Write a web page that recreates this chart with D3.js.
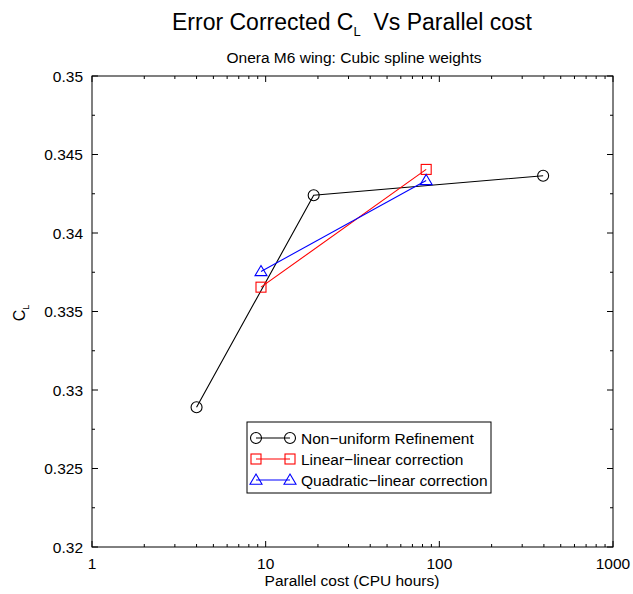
<!DOCTYPE html>
<html>
<head>
<meta charset="utf-8">
<script src="https://cdn.jsdelivr.net/npm/d3@7"></script>
<style>
  html, body { margin: 0; padding: 0; background: #fff; }
  svg { display: block; font-family: "Liberation Sans", Arial, sans-serif; }
</style>
</head>
<body>
<svg id="chart" width="633" height="594"></svg>
<script>
// Parallel cost (CPU hours) and corrected lift coefficient per method
const nonUniformCost = [4, 18.9, 396];
const nonUniformCL = [0.3289, 0.3424, 0.34365];
const linearCost = [9.4, 84];
const linearCL = [0.33655, 0.34405];
const quadraticCost = [9.4, 84];
const quadraticCL = [0.33755, 0.34335];

const xTickValues = [1, 10, 100, 1000];
const yTickValues = [0.32, 0.325, 0.33, 0.335, 0.34, 0.345, 0.35];
const yTickLabels = ["0.32", "0.325", "0.33", "0.335", "0.34", "0.345", "0.35"];

const seriesNames = ["Non\u2212uniform Refinement", "Linear\u2212linear correction", "Quadratic\u2212linear correction"];
const seriesColors = ["#000000", "#ff0000", "#0000ff"];
const seriesShapes = ["circle", "square", "triangle"];

const series = [
  { cost: nonUniformCost, cl: nonUniformCL },
  { cost: linearCost, cl: linearCL },
  { cost: quadraticCost, cl: quadraticCL }
].map((s, i) => ({
  name: seriesNames[i], color: seriesColors[i], shape: seriesShapes[i],
  points: s.cost.map((c, j) => ({ x: c, y: s.cl[j] }))
}));

const svg = d3.select("#chart");
const margin = { left: 92, right: 20, top: 76, bottom: 47 };
const W = 633, H = 594;
const x = d3.scaleLog().domain([1, 1000]).range([margin.left, W - margin.right]);
const y = d3.scaleLinear().domain([0.32, 0.35]).range([H - margin.bottom, margin.top]);

const x0 = x.range()[0], x1 = x.range()[1], y0 = y.range()[0], y1 = y.range()[1];
const fs = 15.5;

// Frame
svg.append("rect").attr("x", x0).attr("y", y1).attr("width", x1 - x0).attr("height", y0 - y1)
  .attr("fill", "none").attr("stroke", "#000").attr("stroke-width", 1);

const tickG = svg.append("g").attr("stroke", "#000").attr("stroke-width", 1);
const major = 6, minor = 3;

// X ticks (log decades with minor ticks), mirrored on top
const xMinor = [];
for (let d = 1; d < 1000; d *= 10) for (let k = 2; k <= 9; k++) xMinor.push(d * k);
xMinor.forEach(v => {
  tickG.append("line").attr("x1", x(v)).attr("x2", x(v)).attr("y1", y0).attr("y2", y0 - minor);
  tickG.append("line").attr("x1", x(v)).attr("x2", x(v)).attr("y1", y1).attr("y2", y1 + minor);
});
xTickValues.forEach(v => {
  tickG.append("line").attr("x1", x(v)).attr("x2", x(v)).attr("y1", y0).attr("y2", y0 - major);
  tickG.append("line").attr("x1", x(v)).attr("x2", x(v)).attr("y1", y1).attr("y2", y1 + major);
});

// Y ticks with half-step minor ticks, mirrored on right
const yMinor = d3.range(0.3225, 0.35, 0.005);
yMinor.forEach(v => {
  tickG.append("line").attr("x1", x0).attr("x2", x0 + minor).attr("y1", y(v)).attr("y2", y(v));
  tickG.append("line").attr("x1", x1).attr("x2", x1 - minor).attr("y1", y(v)).attr("y2", y(v));
});
yTickValues.forEach(v => {
  tickG.append("line").attr("x1", x0).attr("x2", x0 + major).attr("y1", y(v)).attr("y2", y(v));
  tickG.append("line").attr("x1", x1).attr("x2", x1 - major).attr("y1", y(v)).attr("y2", y(v));
});

// Tick labels
svg.append("g").selectAll("text").data(xTickValues).join("text")
  .attr("x", d => x(d)).attr("y", y0 + 22).attr("text-anchor", "middle")
  .attr("font-size", fs).text(d => String(d));
svg.append("g").selectAll("text").data(yTickValues).join("text")
  .attr("x", x0 - 9).attr("y", d => y(d) + 5.5).attr("text-anchor", "end")
  .attr("font-size", fs).text((d, i) => yTickLabels[i]);

// Titles
const title = svg.append("text").attr("x", 352).attr("y", 30).attr("text-anchor", "middle")
  .attr("font-size", 23);
title.append("tspan").text("Error Corrected C");
title.append("tspan").attr("font-size", 13).attr("dy", 6).text("L");
title.append("tspan").attr("dy", -6).text("\u00a0 Vs Parallel cost");

svg.append("text").attr("x", 354).attr("y", 63).attr("text-anchor", "middle")
  .attr("font-size", fs).text("Onera M6 wing: Cubic spline weights");

svg.append("text").attr("x", 352).attr("y", 586).attr("text-anchor", "middle")
  .attr("font-size", fs).text("Parallel cost (CPU hours)");

const yl = svg.append("text").attr("transform", "translate(25,313) rotate(-90)")
  .attr("text-anchor", "middle").attr("font-size", 16);
yl.append("tspan").text("C");
yl.append("tspan").attr("font-size", 9).attr("dy", 4).text("L");

// Marker drawing
function marker(g, shape, cx, cy, color) {
  if (shape === "circle") {
    g.append("circle").attr("cx", cx).attr("cy", cy).attr("r", 5.5)
      .attr("fill", "none").attr("stroke", color).attr("stroke-width", 1.1);
  } else if (shape === "square") {
    g.append("rect").attr("x", cx - 5).attr("y", cy - 5).attr("width", 10).attr("height", 10)
      .attr("fill", "none").attr("stroke", color).attr("stroke-width", 1.1);
  } else {
    const s = 6;
    g.append("path").attr("d", `M${cx},${cy - s}L${cx + s},${cy + s * 0.7}L${cx - s},${cy + s * 0.7}Z`)
      .attr("fill", "none").attr("stroke", color).attr("stroke-width", 1.1);
  }
}

const line = d3.line().x(d => x(d.x)).y(d => y(d.y));
const plotG = svg.append("g");
series.forEach(s => {
  plotG.append("path").datum(s.points).attr("d", line)
    .attr("fill", "none").attr("stroke", s.color).attr("stroke-width", 1.1);
  s.points.forEach(p => marker(plotG, s.shape, x(p.x), y(p.y), s.color));
});

// Legend
const lg = svg.append("g");
lg.append("rect").attr("x", 247).attr("y", 422).attr("width", 244).attr("height", 71)
  .attr("fill", "#fff").attr("stroke", "#000").attr("stroke-width", 1);
series.forEach((s, i) => {
  const ly = 438 + i * 21;
  lg.append("line").attr("x1", 256).attr("x2", 290).attr("y1", ly).attr("y2", ly)
    .attr("stroke", s.color).attr("stroke-width", 1.1);
  marker(lg, s.shape, 256, ly, s.color);
  marker(lg, s.shape, 290, ly, s.color);
  lg.append("text").attr("x", 301).attr("y", ly + 5.5).attr("font-size", fs).text(s.name);
});
</script>
</body>
</html>
